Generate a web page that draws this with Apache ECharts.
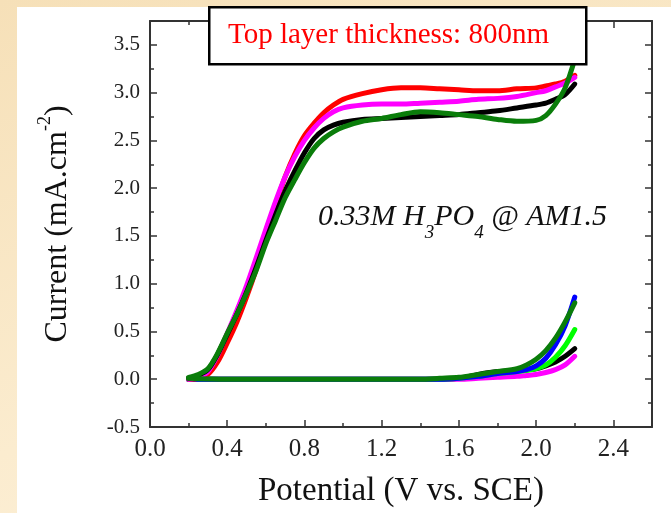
<!DOCTYPE html>
<html>
<head>
<meta charset="utf-8">
<script src="https://cdn.jsdelivr.net/npm/echarts@6/dist/echarts.min.js"></script>
<style>
  html, body { margin: 0; padding: 0; }
  #wrap { position: relative; width: 671px; height: 513px; overflow: hidden;
          background: linear-gradient(160deg, #f6e0b8 0%, #fbeccf 60%, #fdf1da 100%); }
  #paper { position: absolute; left: 17px; top: 7px; right: 0; bottom: 0; background: #fff; }
  #chart { position: absolute; left: 0; top: 0; width: 671px; height: 513px; }
</style>
</head>
<body>
<div id="wrap">
  <div id="paper"></div>
  <div id="chart"></div>
</div>
<script>
  // potentials (V vs. SCE) for the illuminated sweeps
  var lightV = [0.2, 0.25, 0.3, 0.35, 0.4, 0.45, 0.5, 0.55, 0.6, 0.65, 0.7, 0.75, 0.8, 0.85, 0.9, 0.95,
                1.0, 1.1, 1.2, 1.3, 1.4, 1.5, 1.6, 1.7, 1.8, 1.9, 2.0, 2.05, 2.1, 2.15, 2.2];
  var redLight     = [0, 0.01, 0.05, 0.18, 0.38, 0.6, 0.86, 1.15, 1.48, 1.82, 2.12, 2.36, 2.55, 2.68, 2.79, 2.87,
                      2.93, 2.99, 3.03, 3.05, 3.05, 3.04, 3.03, 3.02, 3.02, 3.04, 3.05, 3.07, 3.09, 3.12, 3.18];
  var magentaLight = [0, 0.02, 0.08, 0.25, 0.48, 0.72, 0.98, 1.27, 1.57, 1.86, 2.12, 2.33, 2.5, 2.63, 2.73, 2.8,
                      2.84, 2.87, 2.88, 2.88, 2.89, 2.9, 2.91, 2.93, 2.94, 2.96, 3.0, 3.02, 3.06, 3.1, 3.16];
  var blackLight   = [0.01, 0.04, 0.1, 0.26, 0.47, 0.68, 0.91, 1.17, 1.45, 1.72, 1.97, 2.18, 2.37, 2.52, 2.61, 2.66,
                      2.69, 2.72, 2.73, 2.74, 2.75, 2.76, 2.77, 2.79, 2.81, 2.84, 2.87, 2.89, 2.93, 2.98, 3.09];
  var greenLight   = [0.02, 0.05, 0.11, 0.27, 0.48, 0.68, 0.9, 1.14, 1.42, 1.66, 1.9, 2.09, 2.27, 2.42, 2.52, 2.59,
                      2.64, 2.7, 2.73, 2.77, 2.8, 2.79, 2.77, 2.75, 2.72, 2.7, 2.71, 2.76, 2.88, 3.05, 3.35];

  // potentials for the dark sweeps
  var darkV = [0.2, 0.4, 0.6, 0.8, 1.0, 1.2, 1.4, 1.5, 1.6, 1.7, 1.8, 1.9, 1.95, 2.0, 2.05, 2.1, 2.15, 2.2];
  var blackDark   = [0, 0, 0, 0, 0, 0, 0, 0, 0.01, 0.05, 0.08, 0.09, 0.1, 0.11, 0.14, 0.18, 0.24, 0.32];
  var magentaDark = [0, 0, 0, 0, 0, 0, 0, 0, 0, 0.01, 0.02, 0.03, 0.04, 0.05, 0.07, 0.1, 0.15, 0.24];
  var limeDark    = [0, 0, 0, 0, 0, 0, 0, 0, 0.01, 0.03, 0.06, 0.08, 0.09, 0.11, 0.15, 0.23, 0.35, 0.52];
  var blueDark    = [0, 0, 0, 0, 0, 0, 0, 0, 0.01, 0.03, 0.06, 0.08, 0.1, 0.14, 0.22, 0.36, 0.56, 0.86];
  var greenDark   = [0.01, 0, 0, 0, 0, 0, 0, 0.01, 0.02, 0.05, 0.08, 0.11, 0.15, 0.21, 0.3, 0.43, 0.6, 0.8];

  var xTicks = [0, 2.6, 0.4];      // min, max, step
  var yTicks = [-0.5, 3.75, 0.5];

  var FONT = '"Liberation Serif", "DejaVu Serif", serif';
  var AXIS = '#333';

  function pairs(xs, ys) {
    return xs.map(function (v, i) { return [v, ys[i]]; });
  }

  function curve(name, color, xs, ys) {
    return {
      name: name,
      type: 'line',
      xAxisIndex: 0,
      yAxisIndex: 0,
      data: pairs(xs, ys),
      showSymbol: false,
      smooth: 0.3,
      silent: true,
      lineStyle: { color: color, width: 5, cap: 'round', join: 'round' }
    };
  }

  function axisBase(pos, range, showLabel, fontSize) {
    return {
      type: 'value',
      position: pos,
      min: range[0],
      max: range[1],
      interval: range[2],
      axisLine: { show: true, onZero: false, lineStyle: { color: AXIS, width: 2 } },
      axisTick: { show: true, inside: true, length: 7, lineStyle: { color: AXIS, width: 1.5 } },
      minorTick: { show: true, splitNumber: 2, length: 4, lineStyle: { color: AXIS, width: 1.5 } },
      splitLine: { show: false },
      axisLabel: {
        show: showLabel,
        showMaxLabel: false,
        fontFamily: FONT,
        fontSize: fontSize,
        color: '#222',
        margin: 10,
        formatter: function (v) { return v.toFixed(1); }
      }
    };
  }

  var chart = echarts.init(document.getElementById('chart'), null, { renderer: 'canvas' });

  var xMain = axisBase('bottom', xTicks, true, 25);
  xMain.name = 'Potential (V vs. SCE)';
  xMain.nameLocation = 'middle';
  xMain.nameGap = 48;
  xMain.nameTextStyle = { fontFamily: FONT, fontSize: 33, color: '#111' };

  var yMain = axisBase('left', yTicks, true, 21);
  yMain.name = '{a|Current (mA.cm}{s|-2}{a|)}';
  yMain.nameLocation = 'middle';
  yMain.nameRotate = 90;
  yMain.nameGap = 76;
  yMain.nameTextStyle = {
    rich: {
      a: { fontFamily: FONT, fontSize: 32, color: '#111', lineHeight: 38, verticalAlign: 'bottom' },
      s: { fontFamily: FONT, fontSize: 18, color: '#111', lineHeight: 18, verticalAlign: 'top' }
    }
  };

  chart.setOption({
    backgroundColor: 'transparent',
    animation: false,
    grid: { left: 150, right: 19, top: 21, bottom: 86, outerBoundsMode: 'none' },
    xAxis: [xMain, axisBase('top', xTicks, false, 25)],
    yAxis: [yMain, axisBase('right', yTicks, false, 21)],
    series: [
      curve('dark black', '#000000', darkV, blackDark),
      curve('dark magenta', '#ff00ff', darkV, magentaDark),
      curve('dark lime', '#00ff00', darkV, limeDark),
      curve('dark blue', '#0000ff', darkV, blueDark),
      curve('light red', '#ff0000', lightV, redLight),
      curve('light magenta', '#ff00ff', lightV, magentaLight),
      curve('light black', '#000000', lightV, blackLight),
      curve('dark green', '#0a7d0a', darkV, greenDark),
      curve('light green', '#0a7d0a', lightV, greenLight)
    ],
    graphic: [
      {
        type: 'rect',
        left: 208, top: 6, z: 100,
        shape: { width: 377, height: 57 },
        style: { fill: '#fff', stroke: '#000', lineWidth: 2.5 }
      },
      {
        type: 'text',
        left: 228, top: 21, z: 101,
        style: { text: 'Top layer thickness: 800nm', fill: '#ff0000', font: '29px ' + FONT }
      },
      {
        type: 'text',
        left: 318, top: 202, z: 101,
        style: {
          text: '{i|0.33M H}{b|3}{i|PO}{b|4}{i| @ AM1.5}',
          rich: {
            i: { fontFamily: FONT, fontStyle: 'italic', fontSize: 30, fill: '#111', lineHeight: 40, verticalAlign: 'top' },
            b: { fontFamily: FONT, fontStyle: 'italic', fontSize: 19, fill: '#111', lineHeight: 19, verticalAlign: 'bottom' }
          }
        }
      }
    ]
  });
</script>
</body>
</html>
